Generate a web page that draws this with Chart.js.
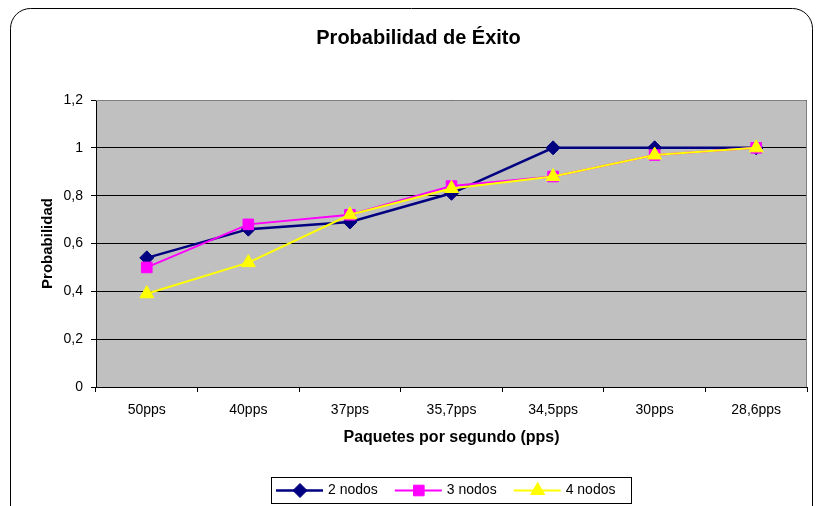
<!DOCTYPE html>
<html>
<head>
<meta charset="utf-8">
<script src="https://cdn.jsdelivr.net/npm/chart.js@4.4.1/dist/chart.umd.min.js"></script>
<style>
  html, body { margin: 0; padding: 0; background: #fff; }
  canvas { display: block; }
</style>
</head>
<body>
<canvas id="grafico" width="816" height="506"></canvas>
<script>
// Datos
const categorias = ['50pps', '40pps', '37pps', '35,7pps', '34,5pps', '30pps', '28,6pps'];
const nodos2 = [0.54, 0.66, 0.69, 0.81, 1, 1, 1];
const nodos3 = [0.50, 0.68, 0.72, 0.84, 0.88, 0.97, 1];
const nodos4 = [0.39, 0.52, 0.72, 0.83, 0.88, 0.97, 1];
const etiquetasY = ['0', '0,2', '0,4', '0,6', '0,8', '1', '1,2'];

const FUENTE = "'Liberation Sans', Arial, sans-serif";

// Fondo blanco, marco redondeado y área de trazado gris
const fondoPlugin = {
    id: 'fondo',
    beforeDraw(chart) {
        const ctx = chart.ctx;
        const a = chart.chartArea;
        ctx.save();
        ctx.fillStyle = '#ffffff';
        ctx.fillRect(0, 0, chart.width, chart.height);
        ctx.strokeStyle = '#000';
        ctx.lineWidth = 1;
        ctx.beginPath();
        ctx.roundRect(10.5, 8.5, 802, 530, 20);
        ctx.stroke();
        ctx.fillStyle = '#c0c0c0';
        ctx.fillRect(a.left, a.top, a.right - a.left, a.bottom - a.top);
        ctx.restore();
    },
    beforeDatasetsDraw(chart) {
        // bordes superior y derecho del área de trazado en gris
        const ctx = chart.ctx;
        const a = chart.chartArea;
        ctx.save();
        ctx.strokeStyle = '#808080';
        ctx.lineWidth = 1;
        ctx.beginPath();
        ctx.moveTo(a.left, a.top + 0.5);
        ctx.lineTo(a.right - 0.5, a.top + 0.5);
        ctx.lineTo(a.right - 0.5, a.bottom);
        ctx.stroke();
        ctx.restore();
    }
};

// Leyenda con recuadro, línea y marcador
const leyendaPlugin = {
    id: 'leyenda',
    afterDraw(chart) {
        const ctx = chart.ctx;
        const caja = { x: 271, y: 477, w: 360, h: 26 };
        ctx.save();
        ctx.fillStyle = '#fff';
        ctx.fillRect(caja.x, caja.y, caja.w, caja.h);
        ctx.strokeStyle = '#000';
        ctx.lineWidth = 1;
        ctx.strokeRect(caja.x + 0.5, caja.y + 0.5, caja.w, caja.h);
        ctx.font = '14px ' + FUENTE;
        ctx.textBaseline = 'middle';
        const yc = caja.y + caja.h / 2 + 0.5;
        let x = caja.x + 5;
        chart.data.datasets.forEach(ds => {
            ctx.strokeStyle = ds.borderColor;
            ctx.lineWidth = ds.borderWidth;
            ctx.beginPath();
            ctx.moveTo(x, yc);
            ctx.lineTo(x + 47, yc);
            ctx.stroke();
            ctx.fillStyle = ds.pointBackgroundColor;
            ctx.strokeStyle = ds.pointBorderColor;
            ctx.lineWidth = 1;
            Chart.helpers.drawPoint(ctx, {
                pointStyle: ds.pointStyle,
                radius: ds.pointRadius,
                rotation: 0,
                borderWidth: 1
            }, x + 24, yc);
            ctx.fillStyle = '#000';
            ctx.fillText(ds.label, x + 52, yc);
            x += 52 + ctx.measureText(ds.label).width + 17;
        });
        ctx.restore();
    }
};

const chart = new Chart(document.getElementById('grafico'), {
    type: 'line',
    data: {
        labels: categorias,
        datasets: [
            {
                label: '2 nodos',
                data: nodos2,
                borderColor: '#000080',
                backgroundColor: '#000080',
                pointBackgroundColor: '#000080',
                pointBorderColor: '#000080',
                borderWidth: 2.5,
                pointStyle: 'rectRot',
                pointRadius: 7,
                pointBorderWidth: 1,
                order: 3
            },
            {
                label: '3 nodos',
                data: nodos3,
                borderColor: '#ff00ff',
                backgroundColor: '#ff00ff',
                pointBackgroundColor: '#ff00ff',
                pointBorderColor: '#ff00ff',
                borderWidth: 2,
                pointStyle: 'rect',
                pointRadius: 7.5,
                pointBorderWidth: 1,
                order: 2
            },
            {
                label: '4 nodos',
                data: nodos4,
                borderColor: '#ffff00',
                backgroundColor: '#ffff00',
                pointBackgroundColor: '#ffff00',
                pointBorderColor: '#ffff00',
                borderWidth: 2,
                pointStyle: 'triangle',
                pointRadius: 8,
                pointBorderWidth: 1,
                order: 1
            }
        ]
    },
    options: {
        responsive: false,
        animation: false,
        events: [],
        layout: {
            padding: { left: 30, right: 9, top: 0, bottom: 56 }
        },
        plugins: {
            legend: { display: false },
            tooltip: { enabled: false },
            title: {
                display: true,
                text: 'Probabilidad de Éxito',
                color: '#000',
                font: { family: FUENTE, size: 20, weight: 'bold' },
                padding: { top: 26, bottom: 50 }
            }
        },
        scales: {
            x: {
                offset: true,
                afterFit(scale) { scale.height = 63; },
                grid: {
                    display: true,
                    offset: true,
                    drawOnChartArea: false,
                    drawTicks: true,
                    tickLength: 5,
                    color: '#000'
                },
                border: { display: true, color: '#000', width: 1 },
                ticks: {
                    color: '#000',
                    padding: 10,
                    maxRotation: 0,
                    font: { family: FUENTE, size: 14 }
                },
                title: {
                    display: true,
                    text: 'Paquetes por segundo (pps)',
                    color: '#000',
                    font: { family: FUENTE, size: 16, weight: 'bold' },
                    padding: { top: 4, bottom: 2.5 }
                }
            },
            y: {
                min: 0,
                max: 1.2,
                afterFit(scale) { scale.width = 66; },
                grid: {
                    color: '#000',
                    lineWidth: 1,
                    drawTicks: true,
                    tickLength: 5
                },
                border: { display: true, color: '#000', width: 1 },
                ticks: {
                    stepSize: 0.2,
                    color: '#000',
                    padding: 8,
                    font: { family: FUENTE, size: 14 },
                    callback: (valor, i) => etiquetasY[i]
                },
                title: {
                    display: true,
                    text: 'Probabilidad',
                    color: '#000',
                    font: { family: FUENTE, size: 15, weight: 'bold' },
                    padding: { top: 9, bottom: 4 }
                }
            }
        }
    },
    plugins: [fondoPlugin, leyendaPlugin]
});
</script>
</body>
</html>
